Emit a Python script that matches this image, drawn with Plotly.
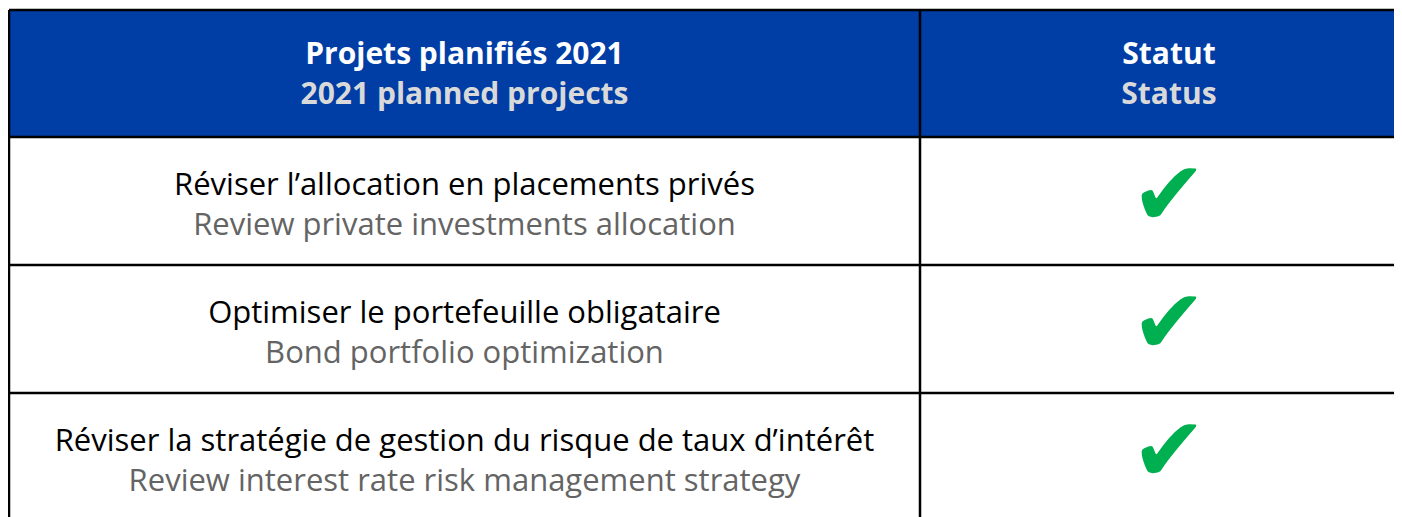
import plotly.graph_objects as go

# table content
header_fr = ["Projets planifiés 2021", "Statut"]
header_en = ["2021 planned projects", "Status"]
projects_fr = [
    "Réviser l’allocation en placements privés",
    "Optimiser le portefeuille obligataire",
    "Réviser la stratégie de gestion du risque de taux d’intérêt",
]
projects_en = [
    "Review private investments allocation",
    "Bond portfolio optimization",
    "Review interest rate risk management strategy",
]
status = ["done", "done", "done"]

# geometry in page pixels; the plot div sits 8px in from the page corner
W, H, OFF = 1402, 517, 8
col_edges = [9, 920, 1418]
header_top, header_h, row_h = 10, 127, 128
BLUE = "#003DA5"
GREEN = "#00B050"
FONT = "Open Sans"

row_tops = [header_top + header_h + i * row_h for i in range(len(projects_fr))]
row_mid = [t + row_h / 2 for t in row_tops]
col_mid = [(col_edges[i] + col_edges[i + 1]) / 2 for i in range(2)]
head_mid = header_top + header_h / 2

fig = go.Figure()

# header text
fig.add_trace(go.Scatter(
    x=col_mid, y=[head_mid - 17] * 2, text=header_fr, mode="text",
    textfont=dict(family=FONT, size=30, color="white", weight="bold"),
    hoverinfo="skip",
))
fig.add_trace(go.Scatter(
    x=col_mid, y=[head_mid + 23] * 2, text=header_en, mode="text",
    textfont=dict(family=FONT, size=30, color="#D9D9D9", weight="bold"),
    hoverinfo="skip",
))

# project rows
fig.add_trace(go.Scatter(
    x=[col_mid[0]] * len(projects_fr), y=[m - 14 for m in row_mid],
    text=projects_fr, mode="text",
    textfont=dict(family=FONT, size=31, color="black"),
    hoverinfo="skip",
))
fig.add_trace(go.Scatter(
    x=[col_mid[0]] * len(projects_en), y=[m + 26 for m in row_mid],
    text=projects_en, mode="text",
    textfont=dict(family=FONT, size=31, color="#646464"),
    hoverinfo="skip",
))

# status check marks
fig.add_trace(go.Scatter(
    x=[col_mid[1]] * len(status), y=[m + 1 for m in row_mid],
    text=["✔" if s == "done" else "" for s in status], mode="text",
    textfont=dict(family="DejaVu Sans", size=90, color=GREEN),
    hoverinfo="skip",
))

# header fill and grid lines
shapes = [dict(type="rect", xref="x", yref="y", x0=col_edges[0], x1=col_edges[-1],
               y0=header_top, y1=header_top + header_h, fillcolor=BLUE,
               line=dict(width=0), layer="below")]
bottom = row_tops[-1] + row_h
for y in [header_top, header_top + header_h] + [t + row_h for t in row_tops]:
    shapes.append(dict(type="line", xref="x", yref="y", x0=col_edges[0], x1=col_edges[-1],
                       y0=y, y1=y, line=dict(color="black", width=2.5)))
for x in col_edges:
    shapes.append(dict(type="line", xref="x", yref="y", x0=x, x1=x,
                       y0=header_top, y1=bottom, line=dict(color="black", width=2.5)))

fig.update_layout(
    width=W - OFF, height=H - OFF,
    margin=dict(l=0, r=0, t=0, b=0),
    paper_bgcolor="white", plot_bgcolor="white",
    showlegend=False,
    shapes=shapes,
    xaxis=dict(range=[OFF, W], visible=False, fixedrange=True),
    yaxis=dict(range=[H, OFF], visible=False, fixedrange=True),
)

fig.write_html("out.html")
